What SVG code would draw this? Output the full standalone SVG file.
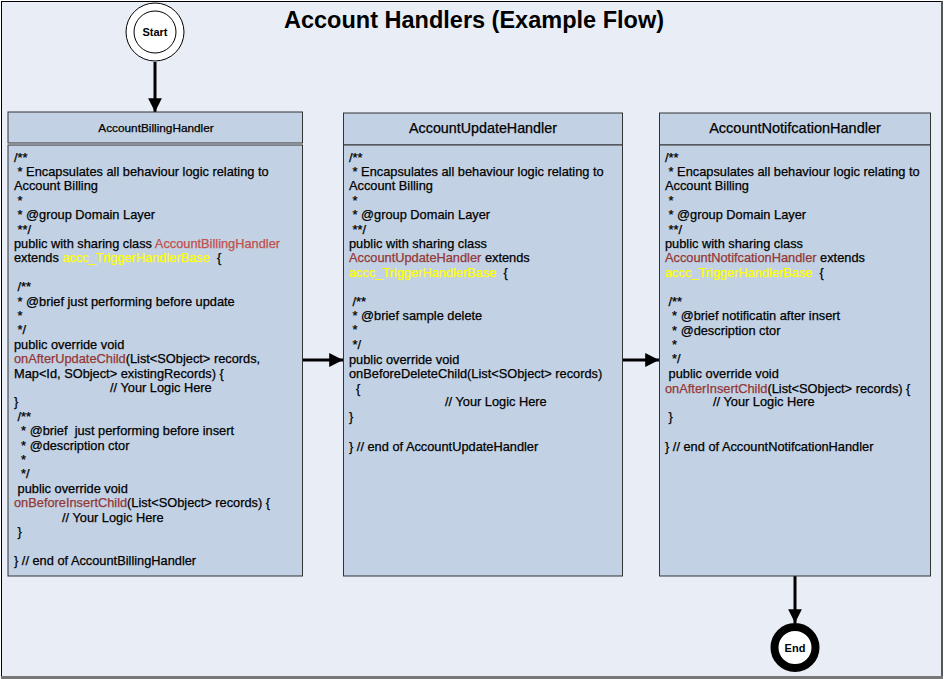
<svg xmlns="http://www.w3.org/2000/svg" width="945" height="679" viewBox="0 0 945 679">
<defs>
<style>
.frame{fill:#e9eef6;stroke:none}
.hdr{fill:#c2d1e3;stroke:#333;stroke-width:1}
.body{fill:#c2d1e3;stroke:#333;stroke-width:1}
.t{font-family:"Liberation Sans",Arial,sans-serif;font-size:12.8px;fill:#000;stroke:#000;stroke-width:0.25}
.h{font-family:"Liberation Sans",Arial,sans-serif;fill:#000;stroke:#000;stroke-width:0.25;text-anchor:middle}
.r{fill:#c0504d;stroke:#c0504d}
.d{fill:#953735;stroke:#953735}
.y{fill:#ffff00;stroke:#ffff00}
.conn{stroke:#000;stroke-width:3;fill:none}
</style>
<marker id="ah" viewBox="0 0 10 10" refX="10" refY="5" markerWidth="5" markerHeight="4.6" markerUnits="strokeWidth" orient="auto">
<path d="M0,0 L10,5 L0,10 Z" fill="#000"/>
</marker>
</defs>
<rect x="0" y="0" width="945" height="679" fill="#ffffff"/>
<rect class="frame" x="1" y="1" width="941" height="677"/>
<line x1="1.5" y1="1" x2="1.5" y2="678" stroke="#000" stroke-width="1"/>
<line x1="1" y1="1.5" x2="942" y2="1.5" stroke="#000" stroke-width="1"/>
<line x1="942" y1="1" x2="942" y2="678" stroke="#555" stroke-width="2"/>
<line x1="1" y1="677.5" x2="943" y2="677.5" stroke="#777" stroke-width="3"/>
<text x="474" y="28" font-family="Liberation Sans,Arial,sans-serif" font-size="23.5" font-weight="bold" text-anchor="middle">Account Handlers (Example Flow)</text>

<g id="connectors">
<line class="conn" x1="155" y1="62" x2="155" y2="112" marker-end="url(#ah)"/>
<line class="conn" x1="303" y1="360" x2="343" y2="360" marker-end="url(#ah)"/>
<line class="conn" x1="622" y1="360" x2="659" y2="360" marker-end="url(#ah)"/>
<line class="conn" x1="795" y1="576" x2="795" y2="623" marker-end="url(#ah)"/>
</g>

<g id="start">
<circle cx="155" cy="32" r="29" fill="#fff" stroke="#000" stroke-width="1"/>
<circle cx="155" cy="32" r="21" fill="#fff" stroke="#000" stroke-width="1"/>
<text x="155" y="36" font-family="Liberation Sans,Arial,sans-serif" font-size="11" font-weight="bold" text-anchor="middle">Start</text>
</g>

<g id="end">
<circle cx="795" cy="647.5" r="20.5" fill="#fff" stroke="#000" stroke-width="8"/>
<text x="795" y="651.5" font-family="Liberation Sans,Arial,sans-serif" font-size="11" font-weight="bold" text-anchor="middle">End</text>
</g>

<g id="AccountBillingHandler">
<rect class="hdr" x="8" y="112" width="294.5" height="31"/>
<text class="h" x="156" y="132" font-size="11.8">AccountBillingHandler</text>
<rect class="body" x="8" y="145" width="294.5" height="431"/>
<text class="t" xml:space="preserve"><tspan x="14" y="161.5">/**</tspan><tspan x="14" y="175.9"> * Encapsulates all behaviour logic relating to</tspan><tspan x="14" y="190.3">Account Billing</tspan><tspan x="14" y="204.7"> *</tspan><tspan x="14" y="219.1"> * @group Domain Layer</tspan><tspan x="14" y="233.5"> **/</tspan><tspan x="14" y="247.9">public with sharing class <tspan class="r">AccountBillingHandler</tspan></tspan><tspan x="14" y="262.3">extends <tspan class="y">accc_TriggerHandlerBase </tspan> {</tspan><tspan x="14" y="291.1"> /**</tspan><tspan x="14" y="305.5"> * @brief just performing before update</tspan><tspan x="14" y="319.9"> *</tspan><tspan x="14" y="334.3"> */</tspan><tspan x="14" y="348.7">public override void</tspan><tspan x="14" y="363.1"><tspan class="d">onAfterUpdateChild</tspan>(List&lt;SObject&gt; records,</tspan><tspan x="14" y="377.5">Map&lt;Id, SObject&gt; existingRecords) {</tspan><tspan x="110" y="391.9">// Your Logic Here</tspan><tspan x="14" y="406.3">}</tspan><tspan x="14" y="420.7"> /**</tspan><tspan x="14" y="435.1">  * @brief  just performing before insert</tspan><tspan x="14" y="449.5">  * @description ctor</tspan><tspan x="14" y="463.9">  *</tspan><tspan x="14" y="478.3">  */</tspan><tspan x="14" y="492.7"> public override void</tspan><tspan x="14" y="507.1"><tspan class="d">onBeforeInsertChild</tspan>(List&lt;SObject&gt; records) {</tspan><tspan x="62" y="521.5">// Your Logic Here</tspan><tspan x="14" y="535.9"> }</tspan><tspan x="14" y="564.7">} // end of AccountBillingHandler</tspan></text>
</g>

<g id="AccountUpdateHandler">
<rect class="hdr" x="343.5" y="113" width="279" height="32"/>
<text class="h" x="483" y="133" font-size="14.3">AccountUpdateHandler</text>
<rect class="body" x="343.5" y="145" width="279" height="431"/>
<text class="t" xml:space="preserve"><tspan x="349" y="161.5">/**</tspan><tspan x="349" y="175.9"> * Encapsulates all behaviour logic relating to</tspan><tspan x="349" y="190.3">Account Billing</tspan><tspan x="349" y="204.7"> *</tspan><tspan x="349" y="219.1"> * @group Domain Layer</tspan><tspan x="349" y="233.5"> **/</tspan><tspan x="349" y="247.9">public with sharing class</tspan><tspan x="349" y="262.3"><tspan class="d">AccountUpdateHandler</tspan> extends</tspan><tspan x="349" y="276.7"><tspan class="y">accc_TriggerHandlerBase</tspan>  {</tspan><tspan x="349" y="305.5"> /**</tspan><tspan x="349" y="320.3"> * @brief sample delete</tspan><tspan x="349" y="334.3"> *</tspan><tspan x="349" y="348.7"> */</tspan><tspan x="349" y="364.1">public override void</tspan><tspan x="349" y="377.5">onBeforeDeleteChild(List&lt;SObject&gt; records)</tspan><tspan x="356" y="392.9">{</tspan><tspan x="445" y="406.3">// Your Logic Here</tspan><tspan x="349" y="420.7">}</tspan><tspan x="349" y="450.5">} // end of AccountUpdateHandler</tspan></text>
</g>

<g id="AccountNotifcationHandler">
<rect class="hdr" x="659.5" y="113" width="271" height="32"/>
<text class="h" x="795" y="133" font-size="14.5">AccountNotifcationHandler</text>
<rect class="body" x="659.5" y="145" width="271" height="431"/>
<text class="t" xml:space="preserve"><tspan x="665" y="161.5">/**</tspan><tspan x="665" y="175.9"> * Encapsulates all behaviour logic relating to</tspan><tspan x="665" y="190.3">Account Billing</tspan><tspan x="665" y="204.7"> *</tspan><tspan x="665" y="219.1"> * @group Domain Layer</tspan><tspan x="665" y="233.5"> **/</tspan><tspan x="665" y="247.9">public with sharing class</tspan><tspan x="665" y="262.3"><tspan class="d">AccountNotifcationHandler</tspan> extends</tspan><tspan x="665" y="276.7"><tspan class="y">accc_TriggerHandlerBase</tspan>  {</tspan><tspan x="665" y="305.5"> /**</tspan><tspan x="665" y="320.3">  * @brief notificatin after insert</tspan><tspan x="665" y="334.7">  * @description ctor</tspan><tspan x="665" y="349.3">  *</tspan><tspan x="665" y="363.1">  */</tspan><tspan x="665" y="377.5"> public override void</tspan><tspan x="665" y="392.9"><tspan class="d">onAfterInsertChild</tspan>(List&lt;SObject&gt; records) {</tspan><tspan x="713" y="406.3">// Your Logic Here</tspan><tspan x="665" y="420.7"> }</tspan><tspan x="665" y="450.5">} // end of AccountNotifcationHandler</tspan></text>
</g>
</svg>
